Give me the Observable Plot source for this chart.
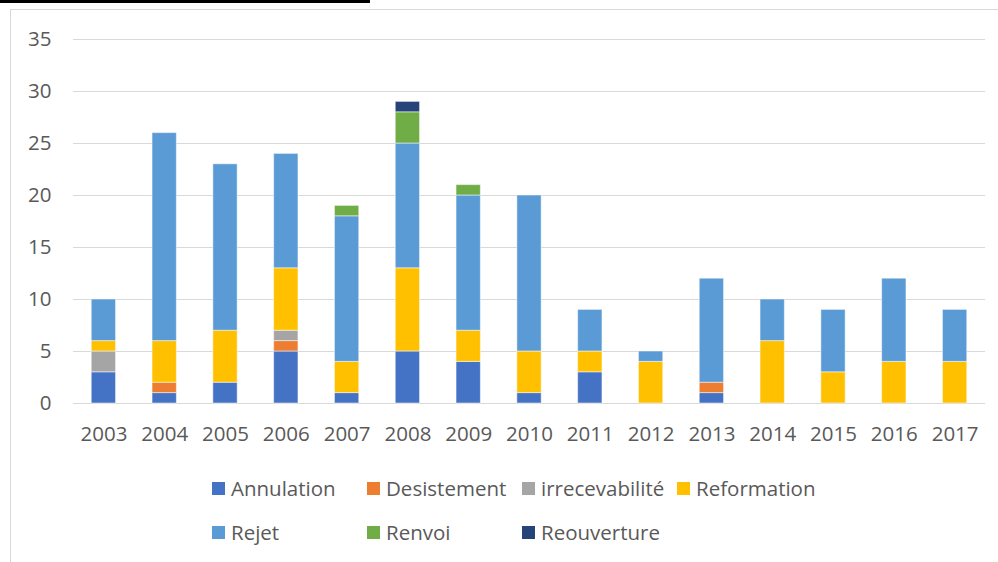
<!DOCTYPE html>
<html>
<head>
<meta charset="utf-8">
<script src="https://cdn.jsdelivr.net/npm/d3@7"></script>
<script src="https://cdn.jsdelivr.net/npm/@observablehq/plot@0.6"></script>
<style>
  html, body { margin: 0; padding: 0; background: #fff; width: 998px; height: 562px; overflow: hidden; position: relative; font-family: "Open Sans", sans-serif; }
  #topbar { position: absolute; left: 0; top: 0; width: 370px; height: 3px; background: #000; }
  #frame { position: absolute; left: 10px; top: 9px; width: 1100px; height: 700px; border: 1px solid #d9d9d9; box-sizing: border-box; }
  #chart { position: absolute; left: 0; top: 0; }
  #legend { position: absolute; left: 212px; top: 474px; width: 640px; display: grid; grid-template-columns: repeat(4, 155px); row-gap: 16px; }
  .item { display: flex; align-items: center; height: 28px; font-size: 20.5px; color: #595959; white-space: nowrap; }
  .sw { width: 13px; height: 13px; margin-right: 6px; flex: none; }
</style>
</head>
<body>
<div id="topbar"></div>
<div id="frame"></div>
<div id="chart"></div>
<div id="legend"></div>
<script>
const years = ["2003","2004","2005","2006","2007","2008","2009","2010","2011","2012","2013","2014","2015","2016","2017"];
const categories = ["Annulation","Desistement","irrecevabilité","Reformation","Rejet","Renvoi","Reouverture"];
const colors = ["#4472C4","#ED7D31","#A5A5A5","#FFC000","#5B9BD5","#70AD47","#264478"];
const annulation     = [3,1,2,5,1,5,4,1,3,0,1,0,0,0,0];
const desistement    = [0,1,0,1,0,0,0,0,0,0,1,0,0,0,0];
const irrecevabilite = [2,0,0,1,0,0,0,0,0,0,0,0,0,0,0];
const reformation    = [1,4,5,6,3,8,3,4,2,4,0,6,3,4,4];
const rejet          = [4,20,16,11,14,12,13,15,4,1,10,4,6,8,5];
const renvoi         = [0,0,0,0,1,3,1,0,0,0,0,0,0,0,0];
const reouverture    = [0,0,0,0,0,1,0,0,0,0,0,0,0,0,0];
const yTicks = [0,5,10,15,20,25,30,35];

const series = [annulation, desistement, irrecevabilite, reformation, rejet, renvoi, reouverture];
const data = [];
years.forEach((yr, i) => {
  categories.forEach((c, k) => {
    data.push({year: yr, category: c, value: series[k][i]});
  });
});

const chart = Plot.plot({
  width: 998,
  height: 460,
  marginLeft: 73,
  marginRight: 13,
  marginTop: 39,
  marginBottom: 57,
  style: {background: "transparent", fontFamily: "Open Sans, sans-serif", fontSize: "20.5px", color: "#595959"},
  x: {domain: years, paddingInner: 0.6, paddingOuter: 0.3, round: false, label: null, tickSize: 0, tickPadding: 23},
  y: {domain: [0, 35], ticks: yTicks, label: null, tickSize: 0, tickPadding: 22},
  color: {domain: categories, range: colors},
  marks: [
    Plot.gridY(yTicks, {stroke: "#d9d9d9", strokeOpacity: 1, strokeWidth: 1.2}),
    Plot.barY(data, {x: "year", y: "value", fill: "category", stroke: "#ffffff", strokeOpacity: 0.5, strokeWidth: 1}),
    Plot.axisX({tickSize: 0, tickPadding: 23, fill: "#595959"}),
    Plot.axisY({ticks: yTicks, tickSize: 0, tickPadding: 22, fill: "#595959"})
  ]
});
document.getElementById("chart").appendChild(chart);

const legend = d3.select("#legend");
categories.forEach((c, k) => {
  const it = legend.append("div").attr("class", "item");
  it.append("div").attr("class", "sw").style("background", colors[k]);
  it.append("span").text(c);
});
</script>
</body>
</html>
